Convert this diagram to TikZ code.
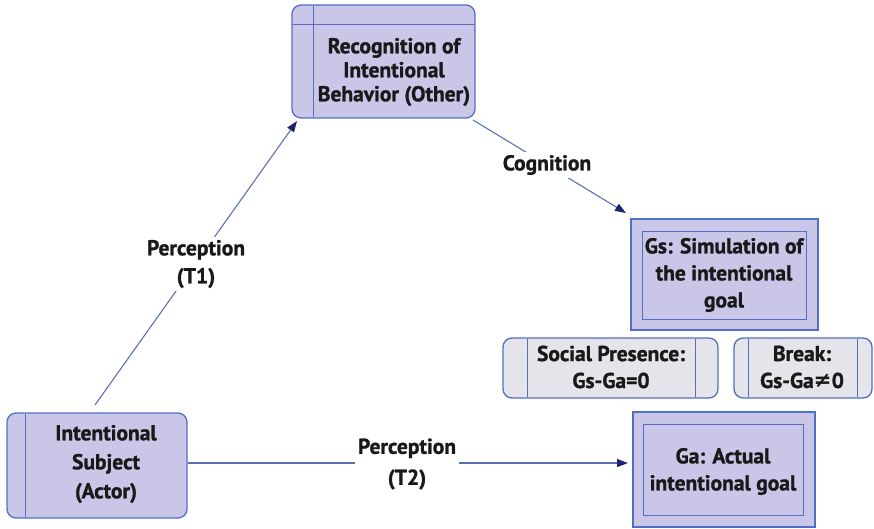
\documentclass[tikz,border=0pt]{standalone}
\usepackage{fontspec}
\setmainfont{PT Sans}[BoldFeatures={FakeBold=1.2}]
\usetikzlibrary{arrows.meta,calc}
\definecolor{boxfill}{RGB}{201,198,232}
\definecolor{grayfill}{RGB}{228,228,234}
\definecolor{boxline}{RGB}{80,112,196}
\definecolor{conn}{RGB}{96,110,180}
\definecolor{tipcol}{RGB}{30,36,110}
\begin{document}
\begin{tikzpicture}[x=1pt,y=-1pt,
  shapebox/.style={draw=boxline,line width=1.3pt,fill=boxfill,inner sep=0pt},
  rbox/.style={shapebox,rounded corners=9pt},
  gbox/.style={draw=boxline,line width=1.3pt,fill=grayfill,inner sep=0pt,rounded corners=9pt},
  innerline/.style={draw=boxline,line width=1pt},
  txt/.style={font=\fontsize{21.5}{25}\selectfont\bfseries,align=center,inner sep=1pt,text=black!90},
  lbl/.style={txt,fill=white,inner sep=3pt},
  conn/.style={draw=conn,line width=1.1pt,-{Triangle[length=11pt,width=8pt,color=tipcol]}}]
\useasboundingbox (0,0) rectangle (874,529);
% Recognition box
\node[rbox,minimum width=183pt,minimum height=113pt] (rec) at (383.5,61.5) {};
\draw[innerline] (313,5.7) -- (313,117.3);
\draw[innerline] (292.7,25) -- (474.3,25);
\node[txt,font=\fontsize{21.5}{24}\selectfont\bfseries] (rect) at (394,72) {Recognition of\\Intentional\\Behavior (Other)};
% Intentional subject
\node[rbox,minimum width=180pt,minimum height=105pt] (subj) at (97,465.5) {};
\draw[innerline] (25,413.7) -- (25,517.3);
\node[txt,font=\fontsize{21.5}{29}\selectfont\bfseries] (subjt) at (106,464) {Intentional\\Subject\\(Actor)};
% Gs box
\node[shapebox,minimum width=187pt,minimum height=111pt] (gs) at (724.5,274.5) {};
\node[draw=boxline,line width=1pt,minimum width=164pt,minimum height=88pt,inner sep=0pt] (gsin) at (724,275) {};
\node[txt,font=\fontsize{21.5}{27}\selectfont\bfseries] (gst) at (724,275) {Gs: Simulation of\\the intentional\\goal};
% Ga box
\node[shapebox,minimum width=182pt,minimum height=115pt] (ga) at (724,469.5) {};
\node[draw=boxline,line width=1pt,minimum width=160pt,minimum height=91pt,inner sep=0pt] (gain) at (723,469.5) {};
\node[txt,font=\fontsize{21.5}{27}\selectfont\bfseries] (gat) at (723,471.5) {Ga: Actual\\intentional goal};
% Social presence
\node[gbox,minimum width=215pt,minimum height=60pt] (soc) at (610.5,368) {};
\draw[innerline] (527,338.7) -- (527,397.3);
\draw[innerline] (695,338.7) -- (695,397.3);
\node[txt,font=\fontsize{21.5}{27}\selectfont\bfseries] (soct) at (611,367) {Social Presence:\\Gs-Ga=0};
% Break
\node[gbox,minimum width=138pt,minimum height=60pt] (brk) at (803,368) {};
\draw[innerline] (748,338.7) -- (748,397.3);
\draw[innerline] (857,338.7) -- (857,397.3);
\node[txt,font=\fontsize{21.5}{27}\selectfont\bfseries] (brkt) at (802,367) {Break:\\Gs-Ga{\fontspec{DejaVu Sans}\bfseries ≠}0};
% connectors
\coordinate (t1s) at (95,405);
\coordinate (t1e) at (297,121);
\draw[conn] (t1s) -- (t1e);
\node[lbl,font=\fontsize{21.5}{28}\selectfont\bfseries] (l1) at (196,264) {Perception\\(T1)};
\coordinate (cs) at (473,120);
\coordinate (ce) at (626,213);
\draw[conn] (cs) -- (ce);
\node[lbl] (l2) at (547,165) {Cognition};
\coordinate (t2e) at (628,463);
\draw[conn] (subj.east |- 0,463) -- (t2e);
\node[lbl,font=\fontsize{21.5}{31}\selectfont\bfseries] (l3) at (407,464) {Perception\\(T2)};
\end{tikzpicture}
\end{document}
